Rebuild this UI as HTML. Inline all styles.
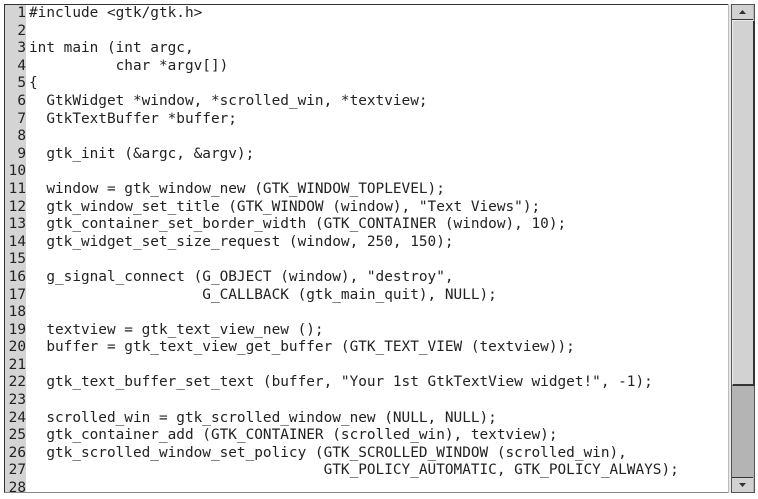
<!DOCTYPE html>
<html><head><style>
body{margin:0;width:758px;height:499px;background:#fff;position:relative;overflow:hidden}
.frame{position:absolute;left:4px;top:4px;width:723px;height:487px;border:1px solid #333;border-right:none;border-bottom-color:#888;background:#fff;overflow:hidden}
.gut{position:absolute;left:0;top:0;width:21px;height:100%;background:#d4d4d4}
pre{position:absolute;left:0;top:0px;margin:0;font-family:"DejaVu Sans Mono","Liberation Mono",monospace;font-size:14.4px;line-height:17.6px;color:#222}
.n{display:inline-block;width:21px;text-align:right;color:#222;margin-right:3px}
.sb{position:absolute;left:728px;top:4px;width:26px;height:489px;background:#e8e8e8;border-left:1px solid #bbb}
.tr{position:absolute;left:2px;top:0;width:22px;height:487px;background:#b4b4b4;border:1px solid #555}
.thumb{position:absolute;left:0;top:15px;width:20px;height:363px;background:#d2d2d2;border:1px solid #eee;border-right:2px solid #333;border-bottom:2px solid #333}
.btn{position:absolute;left:0;width:21px;height:14px;background:#d2d2d2;border-bottom:1px solid #333}
</style></head><body>
<div class="frame"><div class="gut"></div><pre><span class="n">1</span>#include &lt;gtk/gtk.h&gt;
<span class="n">2</span>
<span class="n">3</span>int main (int argc,
<span class="n">4</span>          char *argv[])
<span class="n">5</span>{
<span class="n">6</span>  GtkWidget *window, *scrolled_win, *textview;
<span class="n">7</span>  GtkTextBuffer *buffer;
<span class="n">8</span>
<span class="n">9</span>  gtk_init (&amp;argc, &amp;argv);
<span class="n">10</span>
<span class="n">11</span>  window = gtk_window_new (GTK_WINDOW_TOPLEVEL);
<span class="n">12</span>  gtk_window_set_title (GTK_WINDOW (window), "Text Views");
<span class="n">13</span>  gtk_container_set_border_width (GTK_CONTAINER (window), 10);
<span class="n">14</span>  gtk_widget_set_size_request (window, 250, 150);
<span class="n">15</span>
<span class="n">16</span>  g_signal_connect (G_OBJECT (window), "destroy",
<span class="n">17</span>                    G_CALLBACK (gtk_main_quit), NULL);
<span class="n">18</span>
<span class="n">19</span>  textview = gtk_text_view_new ();
<span class="n">20</span>  buffer = gtk_text_view_get_buffer (GTK_TEXT_VIEW (textview));
<span class="n">21</span>
<span class="n">22</span>  gtk_text_buffer_set_text (buffer, "Your 1st GtkTextView widget!", -1);
<span class="n">23</span>
<span class="n">24</span>  scrolled_win = gtk_scrolled_window_new (NULL, NULL);
<span class="n">25</span>  gtk_container_add (GTK_CONTAINER (scrolled_win), textview);
<span class="n">26</span>  gtk_scrolled_window_set_policy (GTK_SCROLLED_WINDOW (scrolled_win),
<span class="n">27</span>                                  GTK_POLICY_AUTOMATIC, GTK_POLICY_ALWAYS);
<span class="n">28</span>
</pre></div>
<div class="sb"><div class="tr">
<div class="btn" style="top:0"><svg width="21" height="14"><polygon points="7,9 14,9 10.5,5" fill="#333"/></svg></div>
<div class="thumb"></div>
<div class="btn" style="top:472px;border-bottom:none;border-top:1px solid #333"><svg width="21" height="14"><polygon points="7,5 14,5 10.5,9" fill="#333"/></svg></div>
</div></div>
</body></html>
